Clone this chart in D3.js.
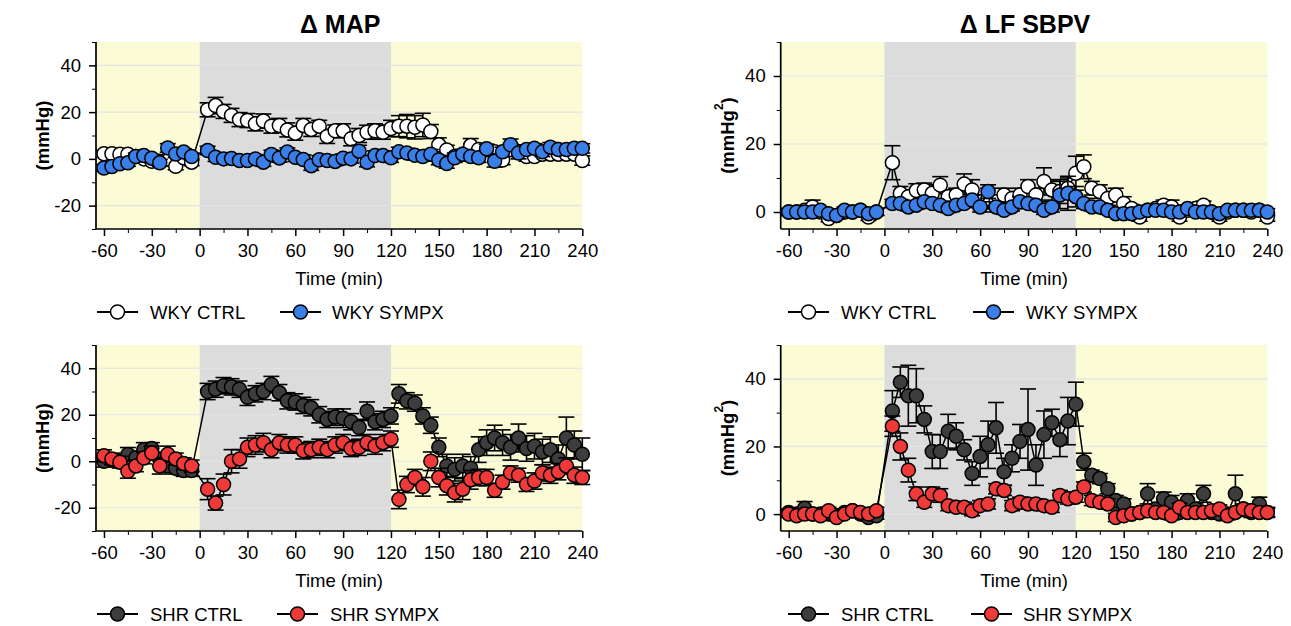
<!DOCTYPE html>
<html><head><meta charset="utf-8">
<script src="https://cdn.jsdelivr.net/npm/d3@7"></script>
<style>
html,body{margin:0;padding:0;background:#fff;}
svg{display:block;font-family:"Liberation Sans",Arial,sans-serif;}
</style></head>
<body><svg id="c" width="1291" height="626"></svg>
<script>
// ---------- data ----------
const TIMES = [-60,-55,-50,-45,-40,-35,-30,-25,-20,-15,-10,-5,
  5,10,15,20,25,30,35,40,45,50,55,60,65,70,75,80,85,90,95,100,
  105,110,115,120,125,130,135,140,145,150,155,160,165,170,175,180,185,190,195,200,
  205,210,215,220,225,230,235,240];

const X_TICKS = [-60,-30,0,30,60,90,120,150,180,210,240];
const X_MINOR = [-45,-15,15,45,75,105,135,165,195,225];
const MAP_TICKS = [-20,0,20,40];
const MAP_MINOR = [-30,-10,10,30,50];
const LF_TICKS = [0,20,40];
const LF_MINOR = [10,30,50];

const TITLES = ["\u0394 MAP", "\u0394 LF SBPV"];
const X_LABEL = "Time (min)";
const LEGEND_WKY = ["WKY CTRL","WKY SYMPX"];
const LEGEND_SHR = ["SHR CTRL","SHR SYMPX"];

// Δ MAP, WKY
const mapWkyCtrl = [2.2,2.2,2,2,1,0,-1,-1,0,-3.2,0.5,-1.4,
  21,22.8,20.3,18.6,16.8,16.4,15,16.2,14,14.3,12.4,11,14.3,12.6,14,9.6,12,12,8.6,10,
  11.4,12,11.4,13,14,14,13.5,14.5,11.7,6,3.8,1,2,5.7,4,4,3,-0.5,4,3,
  1,1,2,2,2,2,2,-0.7];
const mapWkyCtrlErr = [1.5,1.5,1.5,1.5,1.5,1.5,1.5,1.5,1.5,1.5,1.5,1.5,
  3,3.5,3,3,3,3,3,3,3,3,3,3,3,3,2.5,3,2.5,3,3,3,
  3,3,3,3.5,4.5,5,5,5,3,3,2,2,2,3,2,2,2,2,2.5,2,
  2,2,2,2,2,2,2,2];
const mapWkySympx = [-3.9,-3.3,-2.1,-1.7,1,1.4,0.3,-1.7,4.7,2.1,2.9,1,
  3.6,0.7,0,0.2,-0.7,-0.7,0,-1.4,1.9,0.4,2.9,0.7,-0.3,-2.9,-0.4,-0.7,-1.1,0.3,0,3.3,
  -1.4,1.4,1.4,0.5,3,2.5,1.5,1,2,-0.5,-2,0.5,2,1,0.5,4.3,-1,3,6,2.5,
  4,4.5,3,5,4,4,4.5,4.5];
const mapWkySympxErr = [1.5,1.5,1.5,1.5,1.5,1.5,1.5,1.5,1.8,1.5,1.5,1.5,
  1.8,1.8,1.8,1.8,1.8,1.8,1.8,1.8,1.8,1.8,1.8,1.8,2,2,1.8,1.8,1.8,1.8,1.8,2.5,
  2,2,1.8,2,2,2,2,2,2,2,2,2,2,2,2,2,2.5,2,2.5,2.5,
  2,2,2,2,2,2,2,2];

// Δ MAP, SHR
const mapShrCtrl = [0,0.5,0,2.9,1.5,5,5.5,1,-2,-3,-4,-4,
  30,31,32.5,32,31,27.5,29,30,33,29.5,26,25.5,24,23,20,18,19,18.5,17,14.5,
  21.5,17,18,19.5,29,26,25,19.5,15.5,6,-2,-3.5,-2,-3,5,8,10,8,6,10,
  5.5,6.5,4,5,1,10,7,3];
const mapShrCtrlErr = [2.5,2.5,2.5,3,2.5,3,2.5,2.5,2.5,2.5,2.5,2.5,
  3.5,3.5,3.5,3.5,3.5,3.5,3.5,3.5,3.5,3.5,3.5,3.5,3.5,3.5,3.5,3.5,3.5,4,3.5,3.5,
  4,3.5,3.5,3.5,4,3.5,3.5,3.5,3.5,4,5,5,5,5,5.5,5.5,5.5,5.5,5.5,6,
  5.5,5.5,5.5,5.5,6,9,6,7];
const mapShrSympx = [2.4,1,-0.4,-4.3,-2,1.4,3.5,-2,3,1,-1,-2,
  -12,-18,-10,0,1,6,7,8,5,8,7,7,4.5,5,6,5,7,8,5.5,6,
  8,6.5,8,9.5,-16.4,-10,-7,-11,0,-7,-10.5,-13.5,-12,-8,-7,-7,-12.5,-9,-5,-6,
  -10,-8.5,-5,-6,-4.5,-2,-6,-7];
const mapShrSympxErr = [2.5,2.5,2.5,3,2.5,2.5,3,3.5,3.5,2.5,2.5,2.5,
  4.5,3,4.5,5,4,4,4,4,3.5,3.5,3.5,3.5,3.5,3.5,3.5,3.5,3.5,3.5,3.5,3.5,
  3.5,3.5,3.5,3.5,4,3.5,3.5,4,4,4,4,4,4.5,4,3.5,3.5,3,3,3,3,
  3,3.5,3.5,3.5,3.5,3.5,3.5,3];

// Δ LF SBPV, WKY
const lfWkyCtrl = [0,0,0.5,1.5,0,-1.9,-1,0,0,0.5,-1.5,0,
  14.5,5.5,4.5,6.3,6.5,5.5,7.9,4.5,5,8.2,6.5,3,4,3,5,4,5,7.5,5,9,
  6.5,6,7,11.4,13.3,7,6,4,5,2.5,1,-1.5,0.5,1,2,1.5,-1.5,0.5,1,2,
  0,-1.5,0,0.5,0.5,0,0.5,-1.5];
const lfWkyCtrlErr = [1,1,1,2,1,1,1,1,1,1,1,1,
  5,2,2,2,2,2.5,2.5,2,2,3,3,2,3,2,2,2,2,2,2,4,
  3,3.5,3,5,3.5,2,2,2,2,2,1.2,1.2,1.2,1.2,1.5,2,1.2,1.2,1.2,1.2,
  1.2,1.2,1.2,1.2,1.2,1.2,1.2,1.2];
const lfWkySympx = [0,0,0,0,0.5,-0.5,-1,0.5,0,0.5,-0.5,0,
  2.5,2.5,1.5,2,3,2.5,2,1,2,2.5,3.5,1.5,6,1.5,0.5,1.5,3,2.5,2,0.5,
  1.5,5,5.5,4.5,2.5,1.5,1.5,0.5,-0.5,-0.5,-0.5,0,0.5,0.5,0.5,0,0,1,0,0,
  0,-0.5,0.5,0.5,0.5,0.5,0.5,0];
const lfWkySympxErr = [1,1,1,1,1,1,1,1,1,1,1,1,
  1.2,1.2,1.2,1.2,1.2,1.2,1.2,1.2,1.2,1.2,1.5,1.5,2,1.5,1.2,1.2,1.5,1.5,1.5,1.2,
  1.5,4,5,3,1.5,1.2,1.2,1.2,1,1,1,1,1,1,1,1,1,1,1,1,
  1,1,1,1,1,1,1,1];

// Δ LF SBPV, SHR
const lfShrCtrl = [0.5,0,1.7,0,0,0,-0.5,0.5,1,0,-1,-0.5,
  30.5,39,35,35,28,18.5,18.5,24.5,23,19,12,17,20.5,25.5,12.5,16.5,21.5,25,14.5,23.5,
  27,22,27.5,32.5,15.5,11.5,10.5,7.5,4,3,0,0.5,6,1.5,4.5,3.5,0.5,4,1.5,6,
  0.5,0,0,6,1.5,0.5,3,0.5];
const lfShrCtrlErr = [1,1,2,1,1,1,1,1,1,1,1,1,
  6,4.5,9,8,4,5,5,5,4,3,3.5,6,7,7.5,4,4,5,12,6,7,
  4,5,7,6.5,2.5,1.5,1.5,1.5,1.5,1.5,1.5,1.5,3,1.5,2,2,1.5,2,1.5,2.5,
  1.5,1.5,1.5,5.5,1.5,1.5,2,1.5];
const lfShrSympx = [0,-0.5,0,0,-0.5,1,-1,0,1,0.5,0,1,
  26,20,13,6,3.5,6,5.5,2.5,2,2,1,2.5,3,7.5,7,2.5,3.5,3,3,2.5,
  2,5.5,4.5,5,8,4,3.5,3,-1,-0.5,0,0.5,1,0.5,0.5,-0.5,2,0.5,0.5,0.5,
  1,1.5,-0.5,0.5,1.5,1,0.5,0.5];
const lfShrSympxErr = [1,1,1,1,1,1,1,1,1,1,1,1,
  3,4,3.5,2,1.5,2,2,1.5,1.5,1.5,1.5,1.5,1.5,1.5,1.5,1.5,1.5,1.5,1.5,1.5,
  1.5,1.5,1.5,1.5,1.5,1.5,1.5,1.5,1.2,1.2,1.2,1.2,1.2,1.2,1.2,1.2,1.2,1.2,1.2,1.2,
  1.2,1.2,1.2,1.2,1.2,1.2,1.2,1.2];

// ---------- style / layout ----------
const COLORS = {wkyCtrl:"#ffffff", wkySympx:"#3a7fe8", shrCtrl:"#3d3d3d", shrSympx:"#f03a3a"};
const YELLOW = "#fbfbd6", GRAY = "#dcdcdc", GRID = "#e4e4e8";

const panels = [
  {left:96, right:582.3, top:42, bottom:229, ydom:[-30,50], yt:MAP_TICKS, ym:MAP_MINOR, title:TITLES[0], ylab:"(mmHg)", sup:false,
   series:[{v:mapWkyCtrl,e:mapWkyCtrlErr,c:COLORS.wkyCtrl,n:LEGEND_WKY[0]},{v:mapWkySympx,e:mapWkySympxErr,c:COLORS.wkySympx,n:LEGEND_WKY[1]}],
   leg:[97,280], legText:[150,332]},
  {left:96, right:582.3, top:345, bottom:531, ydom:[-30,50], yt:MAP_TICKS, ym:MAP_MINOR, title:null, ylab:"(mmHg)", sup:false,
   series:[{v:mapShrCtrl,e:mapShrCtrlErr,c:COLORS.shrCtrl,n:LEGEND_SHR[0]},{v:mapShrSympx,e:mapShrSympxErr,c:COLORS.shrSympx,n:LEGEND_SHR[1]}],
   leg:[97,277], legText:[150,330]},
  {left:780.7, right:1267.3, top:42, bottom:229, ydom:[-5,50], yt:LF_TICKS, ym:LF_MINOR, title:TITLES[1], ylab:"(mmHg", sup:true,
   series:[{v:lfWkyCtrl,e:lfWkyCtrlErr,c:COLORS.wkyCtrl,n:LEGEND_WKY[0]},{v:lfWkySympx,e:lfWkySympxErr,c:COLORS.wkySympx,n:LEGEND_WKY[1]}],
   leg:[788,973], legText:[841,1026]},
  {left:780.7, right:1267.3, top:345, bottom:531, ydom:[-5,50], yt:LF_TICKS, ym:LF_MINOR, title:null, ylab:"(mmHg", sup:true,
   series:[{v:lfShrCtrl,e:lfShrCtrlErr,c:COLORS.shrCtrl,n:LEGEND_SHR[0]},{v:lfShrSympx,e:lfShrSympxErr,c:COLORS.shrSympx,n:LEGEND_SHR[1]}],
   leg:[788,971], legText:[841,1023]}
];

const svg = d3.select("#c");
const R = 7, CAP = 8;
const FONT = "Liberation Sans, Arial, sans-serif";

panels.forEach(p => {
  const g = svg.append("g");
  const x = d3.scaleLinear().domain([-65,240]).range([p.left,p.right]);
  const y = d3.scaleLinear().domain(p.ydom).range([p.bottom,p.top]);

  // backgrounds
  g.append("rect").attr("x",x(-65)).attr("y",p.top).attr("width",x(0)-x(-65)).attr("height",p.bottom-p.top).attr("fill",YELLOW);
  g.append("rect").attr("x",x(0)).attr("y",p.top).attr("width",x(120)-x(0)).attr("height",p.bottom-p.top).attr("fill",GRAY);
  g.append("rect").attr("x",x(120)).attr("y",p.top).attr("width",x(240)-x(120)).attr("height",p.bottom-p.top).attr("fill",YELLOW);

  // grid
  g.selectAll(".grid").data(p.yt).enter().append("line")
    .attr("x1",x(-65)).attr("x2",x(240)).attr("y1",d=>y(d)).attr("y2",d=>y(d))
    .attr("stroke",GRID).attr("stroke-width",1.2);

  // series
  const line = d3.line().x((d,i)=>x(TIMES[i])).y(d=>y(d));
  p.series.forEach(s => {
    const sg = g.append("g");
    sg.append("path").attr("d",line(s.v)).attr("fill","none").attr("stroke","#000").attr("stroke-width",1.5);
    const eb = sg.append("g").attr("stroke","#000").attr("stroke-width",1.6);
    s.v.forEach((v,i) => {
      const cx = x(TIMES[i]), hi = y(v + s.e[i]), lo = y(v - s.e[i]);
      eb.append("line").attr("x1",cx).attr("x2",cx).attr("y1",hi).attr("y2",lo);
      eb.append("line").attr("x1",cx-CAP).attr("x2",cx+CAP).attr("y1",hi).attr("y2",hi);
      eb.append("line").attr("x1",cx-CAP).attr("x2",cx+CAP).attr("y1",lo).attr("y2",lo);
    });
    sg.selectAll("circle").data(s.v).enter().append("circle")
      .attr("cx",(d,i)=>x(TIMES[i])).attr("cy",d=>y(d)).attr("r",R)
      .attr("fill",s.c).attr("stroke","#000").attr("stroke-width",1.5);
  });

  // axes
  const fs = "18.5px";
  const xMaj = d3.axisBottom(x).tickValues(X_TICKS).tickSize(7).tickPadding(8).tickFormat(d=>d);
  const xMin = d3.axisBottom(x).tickValues(X_MINOR).tickSize(4).tickFormat("");
  const ax = g.append("g").attr("transform",`translate(0,${p.bottom})`).call(xMaj);
  g.append("g").attr("transform",`translate(0,${p.bottom})`).call(xMin).select(".domain").remove();
  ax.select(".domain").attr("d",`M${x(-65)},0H${x(240)}`).attr("stroke-width",1.7);
  ax.selectAll(".tick line").attr("stroke-width",1.5);
  ax.selectAll("text").attr("font-size",fs).attr("fill","#000").attr("font-family",FONT);

  const yMaj = d3.axisLeft(y).tickValues(p.yt).tickSize(7).tickPadding(8).tickFormat(d=>d);
  const yMin = d3.axisLeft(y).tickValues(p.ym).tickSize(4).tickFormat("");
  const ay = g.append("g").attr("transform",`translate(${p.left},0)`).call(yMaj);
  g.append("g").attr("transform",`translate(${p.left},0)`).call(yMin).select(".domain").remove();
  ay.select(".domain").attr("d",`M0,${p.top}V${p.bottom}`).attr("stroke-width",1.7);
  ay.selectAll(".tick line").attr("stroke-width",1.5);
  ay.selectAll("text").attr("font-size",fs).attr("fill","#000").attr("font-family",FONT);
  g.selectAll(".tick line").attr("stroke","#000");

  // x label
  g.append("text").attr("x",(p.left+p.right)/2).attr("y",p.bottom+56).attr("text-anchor","middle")
    .attr("font-size","18.5px").text(X_LABEL);

  // y label
  const yl = g.append("text").attr("transform",`translate(${p.left-54},${(p.top+p.bottom)/2}) rotate(-90)`)
    .attr("text-anchor","middle").attr("dominant-baseline","central")
    .attr("font-size","18.5px").attr("font-weight","bold");
  if (p.sup) {
    yl.append("tspan").text(p.ylab);
    yl.append("tspan").attr("font-size","12px").attr("dy","-8").text("2");
    yl.append("tspan").attr("dy","8").text(")");
  } else yl.text(p.ylab);

  // title
  if (p.title) {
    g.append("text").attr("x",(p.left+p.right)/2+1).attr("y",33).attr("text-anchor","middle")
      .attr("font-size","25px").attr("font-weight","bold").text(p.title);
  }

  // legend
  const ly = p.bottom + 83;
  p.series.forEach((s,k) => {
    const lx = p.leg[k];
    g.append("line").attr("x1",lx).attr("x2",lx+41).attr("y1",ly).attr("y2",ly).attr("stroke","#000").attr("stroke-width",2);
    g.append("circle").attr("cx",lx+20.5).attr("cy",ly).attr("r",R).attr("fill",s.c).attr("stroke","#000").attr("stroke-width",1.5);
    g.append("text").attr("x",p.legText[k]).attr("y",ly).attr("dominant-baseline","central")
      .attr("font-size","18.5px").text(s.n);
  });
});
</script></body></html>
